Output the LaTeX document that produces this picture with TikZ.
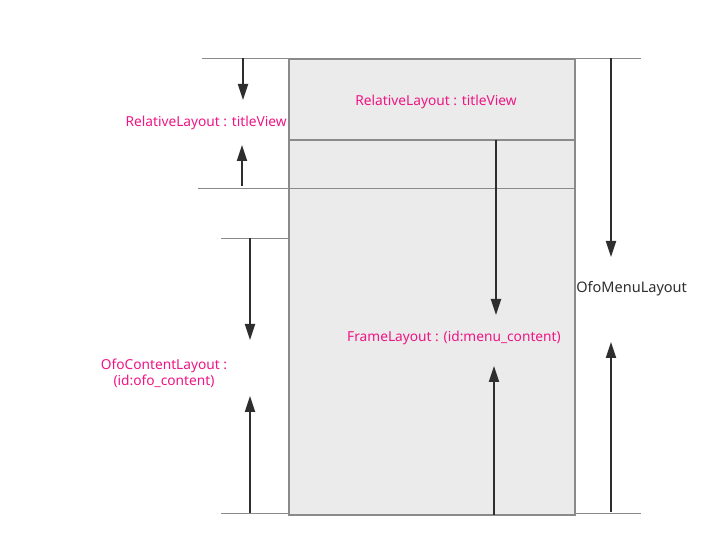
\documentclass[tikz,border=0pt]{standalone}
\usepackage{fontspec}
\setmainfont{Noto Sans}
\usetikzlibrary{arrows.meta}
\definecolor{labelpink}{HTML}{EE1584}
\definecolor{boxfill}{HTML}{EBEBEB}
\definecolor{boxline}{HTML}{8A8A8A}
\definecolor{arrowdark}{HTML}{2E2E2E}
\tikzset{
  guide/.style={draw=boxline, line width=0.6pt},
  dimarrow/.style={draw=arrowdark, line width=1.5pt,
                   -{Triangle[length=12pt, width=7.5pt]}},
  pinklabel/.style={text=labelpink, font=\fontsize{10.3}{12}\selectfont, inner sep=0pt},
  darklabel/.style={text=arrowdark, font=\fontsize{10.9}{13}\selectfont, inner sep=0pt},
}
\begin{document}
\begin{tikzpicture}[x=0.75pt, y=-0.75pt]
    \useasboundingbox (0,0) rectangle (719,556);
    % outer box and title strip
    \filldraw[fill=boxfill, draw=boxline, line width=1.5pt] (289,59) rectangle (575,515);
    \draw[boxline, line width=1.5pt] (289,140) -- (575,140);
    % guide lines
    \draw[guide] (202,58) -- (289,58);
    \draw[guide] (575,58) -- (641,58);
    \draw[guide] (198,188) -- (575,188);
    \draw[guide] (221,238) -- (289,238);
    \draw[guide] (221,513) -- (289,513);
    \draw[guide] (575,513) -- (641,513);
    % arrow end points
    \coordinate (tvtop) at (243,58);
    \coordinate (tvtip1) at (243,100);
    \coordinate (tvbot) at (242,186);
    \coordinate (tvtip2) at (242,145);
    \coordinate (oftop) at (250,238);
    \coordinate (oftip1) at (250,340);
    \coordinate (ofbot) at (250,513);
    \coordinate (oftip2) at (250,396);
    \coordinate (fltop) at (496,140);
    \coordinate (fltip1) at (496,315);
    \coordinate (flbot) at (494,515);
    \coordinate (fltip2) at (494,366);
    \coordinate (omtop) at (611,58);
    \coordinate (omtip1) at (611,257);
    \coordinate (ombot) at (611,512);
    \coordinate (omtip2) at (611,342);
    % arrows
    \draw[dimarrow] (tvtop) -- (tvtip1);
    \draw[dimarrow] (tvbot) -- (tvtip2);
    \draw[dimarrow] (oftop) -- (oftip1);
    \draw[dimarrow] (ofbot) -- (oftip2);
    \draw[dimarrow] (fltop) -- (fltip1);
    \draw[dimarrow] (flbot) -- (fltip2);
    \draw[dimarrow] (omtop) -- (omtip1);
    \draw[dimarrow] (ombot) -- (omtip2);
    % labels
    \node[pinklabel, anchor=east] (tvlabel) at (287,123) {RelativeLayout : titleView};
    \node[pinklabel] (tvinner) at (436,102) {RelativeLayout : titleView};
    \node[pinklabel] (fllabel) at (454,338) {FrameLayout : (id:menu\_content)};
    \node[pinklabel, align=center] (oflabel) at (164,373) {OfoContentLayout :\\(id:ofo\_content)};
    \node[darklabel, anchor=west] (omlabel) at (576,289) {OfoMenuLayout};
\end{tikzpicture}
\end{document}
